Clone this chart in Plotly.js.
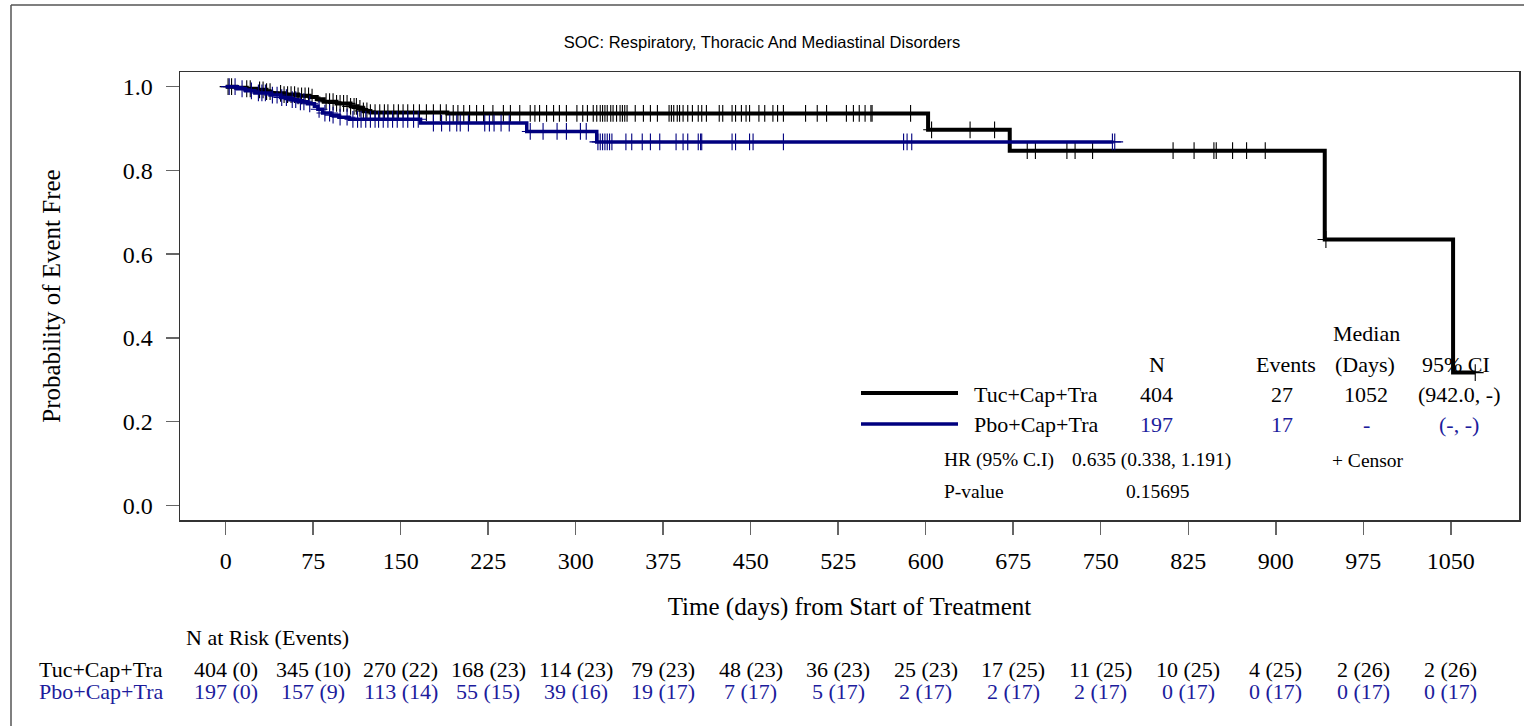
<!DOCTYPE html>
<html>
<head>
<meta charset="utf-8">
<script src="https://cdn.plot.ly/plotly-3.0.1.min.js"></script>
<style>
  html, body { margin: 0; padding: 0; background: #ffffff; overflow: hidden; }
  #chart { width: 1524px; height: 726px; }
</style>
</head>
<body>
<div id="chart"></div>
<script>
// ---------------- data ----------------
const chartTitle = "SOC: Respiratory, Thoracic And Mediastinal Disorders";
const xTitle = "Time (days) from Start of Treatment";
const yTitle = "Probability of Event Free";
const armNames = ["Tuc+Cap+Tra", "Pbo+Cap+Tra"];

// Kaplan-Meier step curves (time in days, survival probability)
const tucTimes = [0, 9, 18, 27, 35, 39, 50, 62, 72, 78, 84, 95, 107, 113, 118, 124, 190, 602, 672, 942, 1052, 1071];
const tucSurv  = [1.0, 0.9975, 0.995, 0.9925, 0.988, 0.984, 0.981, 0.978, 0.975, 0.970, 0.964, 0.960, 0.953, 0.948, 0.942, 0.938, 0.936, 0.897, 0.847, 0.635, 0.317, 0.317];

const pboTimes = [0, 10, 17, 25, 38, 47, 55, 62, 70, 76, 79, 83, 90, 97, 106, 167, 258, 318, 761];
const pboSurv  = [1.0, 0.995, 0.990, 0.985, 0.980, 0.974, 0.969, 0.964, 0.959, 0.953, 0.946, 0.937, 0.932, 0.927, 0.922, 0.913, 0.893, 0.868, 0.868];

// censoring times
const tucCensor = [2, 5, 18, 21, 29, 32, 35, 38, 47, 50, 53, 56, 59, 62, 65, 68, 71, 74, 86, 89, 92, 95, 98, 101, 104, 107, 110, 112, 115, 118, 121,
  124, 128, 132, 136, 139, 144, 148, 152, 156, 161, 166, 172, 178, 184, 189, 195, 199, 204, 209, 215, 221, 229, 238, 244, 252, 261, 265, 269, 275, 281, 286, 292, 301, 306,
  310, 315, 318, 321, 323, 325, 327, 330, 332, 335, 338, 340, 342, 344, 351, 358, 364, 370, 380, 382, 384, 387, 389, 392, 396, 400, 405, 408, 412, 423, 426, 434, 437, 442, 446, 449, 457, 462, 469, 473, 478, 497, 507, 515, 532, 538, 543, 548, 553, 554, 587,
  605, 638, 659, 687, 694, 721, 728, 743, 812, 830, 847, 849, 863, 875, 891, 943, 1071];
const pboCensor = [3, 8, 14, 22, 28, 31, 34, 40, 44, 48, 52, 57, 60, 64, 67, 72, 80, 85, 89, 92, 98, 104,
  109, 113, 116, 120, 124, 128, 131, 135, 139, 143, 147, 152, 156, 161, 165,
  178, 185, 192, 198, 201, 208, 222, 226, 230, 236, 243,
  261, 272, 284, 292, 304, 309,
  319, 321, 323, 325, 327, 329, 331, 343, 348, 357, 364, 372, 386, 392, 396, 405, 407, 408, 434, 437, 449, 452, 478, 581, 584, 588, 760, 762];

// summary table
const summaryHeaders = ["N", "Events", "(Days)", "95% CI"];
const tucSummary = ["404", "27", "1052", "(942.0, -)"];
const pboSummary = ["197", "17", "-", "(-, -)"];
const hrLabel = "HR (95% C.I)";
const hrValue = "0.635 (0.338, 1.191)";
const pLabel = "P-value";
const pValue = "0.15695";
const censorLabel = "+ Censor";

// risk table
const riskTimes = [0, 75, 150, 225, 300, 375, 450, 525, 600, 675, 750, 825, 900, 975, 1050];
const tucAtRisk = [404, 345, 270, 168, 114, 79, 48, 36, 25, 17, 11, 10, 4, 2, 2];
const tucEvents = [0, 10, 22, 23, 23, 23, 23, 23, 23, 25, 25, 25, 25, 26, 26];
const pboAtRisk = [197, 157, 113, 55, 39, 19, 7, 5, 2, 2, 2, 0, 0, 0, 0];
const pboEvents = [0, 9, 14, 15, 16, 17, 17, 17, 17, 17, 17, 17, 17, 17, 17];

// ---------------- styling / layout ----------------
const BLACK = "#000000";
const NAVY_LINE = "#00007f";
const NAVY_TEXT = "#1c1c9c";
const SERIF = "Liberation Serif, Times New Roman, serif";
const SANS = "Liberation Sans, Arial, sans-serif";

const W = 1524, H = 726;
const ML = 180, MR = 5, MT = 72, MB = 206;
const PW = W - ML - MR, PH = H - MT - MB;
const px = v => (v - ML) / PW;          // pixel x -> paper x
const py = v => (H - MB - v) / PH;      // pixel y -> paper y

function stepLookup(times, surv, t) {
  let s = surv[0];
  for (let i = 0; i < times.length; i++) { if (times[i] <= t) s = surv[i]; else break; }
  return s;
}

const traces = [
  { x: tucTimes, y: tucSurv, mode: "lines", line: { shape: "hv", color: BLACK, width: 4 }, hoverinfo: "skip", showlegend: false },
  { x: tucCensor, y: tucCensor.map(t => stepLookup(tucTimes, tucSurv, t)), mode: "markers",
    marker: { symbol: "cross-thin", size: 12, line: { color: BLACK, width: 1.1 } }, hoverinfo: "skip", showlegend: false },
  { x: pboTimes, y: pboSurv, mode: "lines", line: { shape: "hv", color: NAVY_LINE, width: 3.5 }, hoverinfo: "skip", showlegend: false },
  { x: pboCensor, y: pboCensor.map(t => stepLookup(pboTimes, pboSurv, t)), mode: "markers",
    marker: { symbol: "cross-thin", size: 12, line: { color: NAVY_LINE, width: 1.1 } }, hoverinfo: "skip", showlegend: false }
];

const ann = [];
function addText(text, xPix, yPix, opts = {}) {
  ann.push(Object.assign({
    text: text, xref: "paper", yref: "paper", x: px(xPix), y: py(yPix),
    xanchor: "center", yanchor: "middle", showarrow: false,
    font: { family: SERIF, size: 22, color: BLACK }
  }, opts));
}

// summary table
addText("Median", 1366, 333);
const headX = [1157, 1286, 1365, 1456];
summaryHeaders.forEach((h, i) => addText(h, headX[i], 364));
const valX = [1156, 1282, 1366, 1459];
addText(armNames[0], 972, 394, { xanchor: "left" });
tucSummary.forEach((v, i) => addText(v, valX[i], 394));
addText(armNames[1], 972, 424, { xanchor: "left" });
pboSummary.forEach((v, i) => addText(v, valX[i], 424, { font: { family: SERIF, size: 22, color: NAVY_TEXT } }));
addText(hrLabel, 942, 460, { xanchor: "left", font: { family: SERIF, size: 19.5, color: BLACK } });
addText(hrValue, 1070, 460, { xanchor: "left", font: { family: SERIF, size: 19.5, color: BLACK } });
addText(censorLabel, 1330, 460, { xanchor: "left", font: { family: SERIF, size: 19.5, color: BLACK } });
addText(pLabel, 942, 491, { xanchor: "left", font: { family: SERIF, size: 19.5, color: BLACK } });
addText(pValue, 1124, 491, { xanchor: "left", font: { family: SERIF, size: 19.5, color: BLACK } });

// risk table
addText("N at Risk (Events)", 184, 637, { xanchor: "left" });
addText(armNames[0], 37, 669, { xanchor: "left" });
addText(armNames[1], 37, 691, { xanchor: "left", font: { family: SERIF, size: 22, color: NAVY_TEXT } });
riskTimes.forEach((t, i) => {
  ann.push({ text: tucAtRisk[i] + " (" + tucEvents[i] + ")", xref: "x", yref: "paper", x: t, y: py(669),
    xanchor: "center", yanchor: "middle", showarrow: false, font: { family: SERIF, size: 22, color: BLACK } });
  ann.push({ text: pboAtRisk[i] + " (" + pboEvents[i] + ")", xref: "x", yref: "paper", x: t, y: py(691),
    xanchor: "center", yanchor: "middle", showarrow: false, font: { family: SERIF, size: 22, color: NAVY_TEXT } });
});

const shapes = [
  // legend line samples
  { type: "line", xref: "paper", yref: "paper", x0: px(861), x1: px(958), y0: py(393), y1: py(393), line: { color: BLACK, width: 4 } },
  { type: "line", xref: "paper", yref: "paper", x0: px(861), x1: px(958), y0: py(424), y1: py(424), line: { color: NAVY_LINE, width: 3.5 } },
  // outer frame (top and left edges)
  { type: "line", xref: "paper", yref: "paper", x0: px(11), x1: px(1530), y0: py(5), y1: py(5), line: { color: "#555555", width: 1.5 } },
  { type: "line", xref: "paper", yref: "paper", x0: px(11), x1: px(11), y0: py(5), y1: py(740), line: { color: "#555555", width: 1.5 } }
];

const layout = {
  width: W, height: H,
  margin: { l: ML, r: MR, t: MT, b: MB, pad: 0 },
  paper_bgcolor: "#ffffff", plot_bgcolor: "#ffffff",
  showlegend: false,
  title: { text: chartTitle, x: 0.5, xref: "container", y: 1 - 42 / H, yref: "container", xanchor: "center", yanchor: "middle",
           font: { family: SANS, size: 16.5, color: BLACK } },
  xaxis: {
    range: [-39.2, 1108.5], tickvals: riskTimes, ticktext: riskTimes.map(String),
    ticks: "outside", ticklen: 13, tickwidth: 1.5, tickcolor: "#666666",
    showline: true, mirror: true, linecolor: "#333333", linewidth: 1.5,
    showgrid: false, zeroline: false, ticklabelstandoff: 6,
    tickfont: { family: SERIF, size: 24, color: BLACK },
    title: { text: xTitle, font: { family: SERIF, size: 25, color: BLACK }, standoff: 24 }
  },
  yaxis: {
    range: [-0.035, 1.035], tickvals: [0, 0.2, 0.4, 0.6, 0.8, 1.0], tickformat: ".1f",
    ticks: "outside", ticklen: 13, tickwidth: 1.5, tickcolor: "#666666",
    showline: true, mirror: true, linecolor: "#333333", linewidth: 1.5,
    showgrid: false, zeroline: false, ticklabelstandoff: 8,
    tickfont: { family: SERIF, size: 24, color: BLACK },
    title: { text: yTitle, font: { family: SERIF, size: 25, color: BLACK }, standoff: 55 }
  },
  annotations: ann,
  shapes: shapes
};

Plotly.newPlot("chart", traces, layout, { staticPlot: true, displayModeBar: false });
</script>
</body>
</html>
